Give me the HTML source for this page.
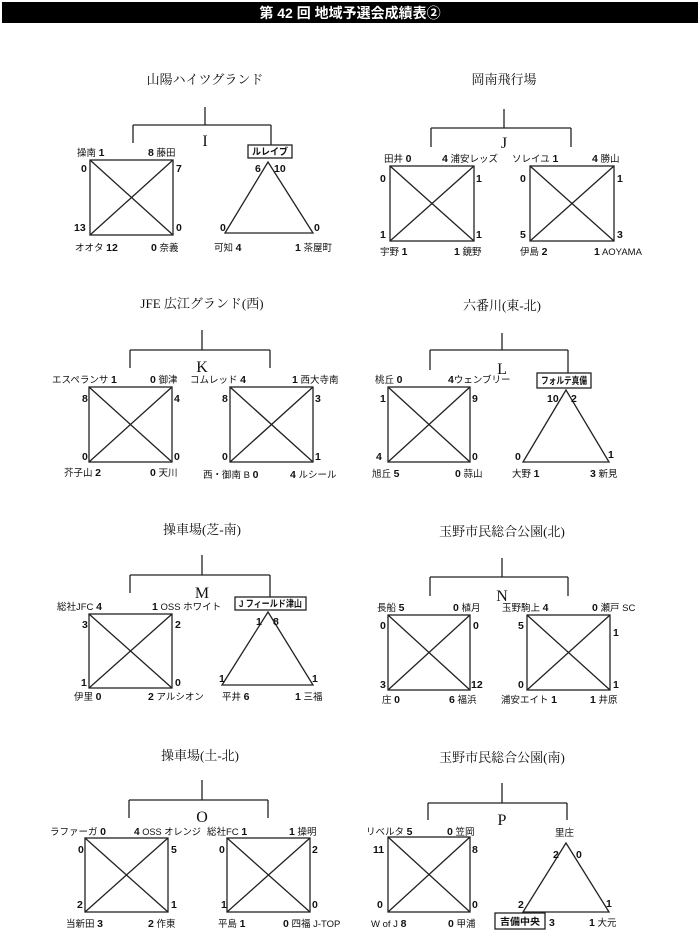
<!DOCTYPE html>
<html><head><meta charset="utf-8"><style>
body{margin:0;background:#fff;width:700px;height:937px;overflow:hidden}
svg{display:block}
text{font-family:"Liberation Sans","Noto Sans CJK JP",sans-serif;font-size:9.5px;fill:#111}
.n{font-weight:bold;font-size:10.5px}
.v{font-family:"Liberation Serif","Noto Serif CJK JP",serif;font-size:13px;text-anchor:middle}
.g{font-family:"Liberation Serif","Noto Serif CJK JP",serif;font-size:16px;text-anchor:middle}
.b{font-weight:bold;font-size:9.5px}
line,rect.s,polygon{stroke:#222;stroke-width:1.3;fill:none}
</style></head><body>
<svg width="700" height="937" viewBox="0 0 700 937" xmlns="http://www.w3.org/2000/svg">
<rect x="2" y="2" width="696" height="21" fill="#000"/>
<text x="350" y="18" text-anchor="middle" style="fill:#fff;font-weight:bold;font-size:14px">第 42 回  地域予選会成績表②</text>

<!-- I -->
<text class="v" x="205" y="84">山陽ハイツグランド</text>
<line x1="205" y1="107" x2="205" y2="125"/><line x1="133" y1="125" x2="271" y2="125"/>
<line x1="133" y1="125" x2="133" y2="143"/><line x1="271" y1="125" x2="271" y2="145"/>
<text class="g" x="205" y="146">I</text>
<rect class="s" x="90" y="160" width="83" height="75"/><line x1="90" y1="160" x2="173" y2="235"/><line x1="173" y1="160" x2="90" y2="235"/>
<text x="77" y="156">操南 <tspan class="n">1</tspan></text><text x="148" y="156"><tspan class="n">8</tspan> 藤田</text>
<text class="n" x="81" y="172">0</text><text class="n" x="176" y="172">7</text>
<text class="n" x="74" y="231">13</text><text class="n" x="176" y="231">0</text>
<text x="75" y="251">オオタ <tspan class="n">12</tspan></text><text x="151" y="251"><tspan class="n">0</tspan> 奈義</text>
<rect class="s" x="248" y="145" width="44" height="13"/><text class="b" x="252" y="155" textLength="36" lengthAdjust="spacingAndGlyphs">ルレイブ</text>
<polygon points="268,162 225,233 313,233"/>
<text class="n" x="255" y="172">6</text><text class="n" x="274" y="172">10</text>
<text class="n" x="220" y="231">0</text><text class="n" x="314" y="231">0</text>
<text x="214" y="251">可知 <tspan class="n">4</tspan></text><text x="295" y="251"><tspan class="n">1</tspan> 茶屋町</text>

<!-- J -->
<text class="v" x="504" y="84">岡南飛行場</text>
<line x1="504" y1="109" x2="504" y2="128"/><line x1="431" y1="128" x2="571" y2="128"/>
<line x1="431" y1="128" x2="431" y2="147"/><line x1="571" y1="128" x2="571" y2="147"/>
<text class="g" x="504" y="148">J</text>
<rect class="s" x="390" y="166" width="84" height="75"/><line x1="390" y1="166" x2="474" y2="241"/><line x1="474" y1="166" x2="390" y2="241"/>
<rect class="s" x="530" y="166" width="84" height="75"/><line x1="530" y1="166" x2="614" y2="241"/><line x1="614" y1="166" x2="530" y2="241"/>
<text x="384" y="162">田井 <tspan class="n">0</tspan></text><text x="442" y="162"><tspan class="n">4</tspan> 浦安レッズ</text>
<text x="512" y="162">ソレイユ <tspan class="n">1</tspan></text><text x="592" y="162"><tspan class="n">4</tspan> 勝山</text>
<text class="n" x="380" y="182">0</text><text class="n" x="476" y="182">1</text><text class="n" x="520" y="182">0</text><text class="n" x="617" y="182">1</text>
<text class="n" x="380" y="238">1</text><text class="n" x="476" y="238">1</text><text class="n" x="520" y="238">5</text><text class="n" x="617" y="238">3</text>
<text x="380" y="255">宇野 <tspan class="n">1</tspan></text><text x="454" y="255"><tspan class="n">1</tspan> 鏡野</text>
<text x="520" y="255">伊島 <tspan class="n">2</tspan></text><text x="594" y="255"><tspan class="n">1</tspan> AOYAMA</text>

<!-- K -->
<text class="v" x="202" y="308">JFE 広江グランド(西)</text>
<line x1="202" y1="330" x2="202" y2="350"/><line x1="130" y1="350" x2="270" y2="350"/>
<line x1="130" y1="350" x2="130" y2="368"/><line x1="270" y1="350" x2="270" y2="368"/>
<text class="g" x="202" y="372">K</text>
<rect class="s" x="89" y="387" width="83" height="75"/><line x1="89" y1="387" x2="172" y2="462"/><line x1="172" y1="387" x2="89" y2="462"/>
<rect class="s" x="230" y="387" width="83" height="75"/><line x1="230" y1="387" x2="313" y2="462"/><line x1="313" y1="387" x2="230" y2="462"/>
<text x="52" y="383">エスペランサ <tspan class="n">1</tspan></text><text x="150" y="383"><tspan class="n">0</tspan> 御津</text>
<text x="190" y="383">コムレッド <tspan class="n">4</tspan></text><text x="292" y="383"><tspan class="n">1</tspan> 西大寺南</text>
<text class="n" x="82" y="402">8</text><text class="n" x="174" y="402">4</text><text class="n" x="222" y="402">8</text><text class="n" x="315" y="402">3</text>
<text class="n" x="82" y="460">0</text><text class="n" x="174" y="460">0</text><text class="n" x="222" y="460">0</text><text class="n" x="315" y="460">1</text>
<text x="64" y="476">芥子山 <tspan class="n">2</tspan></text><text x="150" y="476"><tspan class="n">0</tspan> 天川</text>
<text x="203" y="478">西・御南 B <tspan class="n">0</tspan></text><text x="290" y="478"><tspan class="n">4</tspan> ルシール</text>

<!-- L -->
<text class="v" x="502" y="310">六番川(東-北)</text>
<line x1="502" y1="333" x2="502" y2="350"/><line x1="430" y1="350" x2="568" y2="350"/>
<line x1="430" y1="350" x2="430" y2="370"/><line x1="568" y1="350" x2="568" y2="373"/>
<text class="g" x="502" y="374">L</text>
<rect class="s" x="388" y="387" width="82" height="75"/><line x1="388" y1="387" x2="470" y2="462"/><line x1="470" y1="387" x2="388" y2="462"/>
<rect class="s" x="537" y="373" width="54" height="15"/><text class="b" x="541" y="384" textLength="46" lengthAdjust="spacingAndGlyphs">フォルテ真備</text>
<polygon points="566,390 523,462 609,462"/>
<text x="375" y="383">桃丘 <tspan class="n">0</tspan></text><text x="448" y="383"><tspan class="n">4</tspan>ウェンブリー</text>
<text class="n" x="380" y="402">1</text><text class="n" x="472" y="402">9</text>
<text class="n" x="376" y="460">4</text><text class="n" x="472" y="460">0</text>
<text class="n" x="547" y="402">10</text><text class="n" x="571" y="402">2</text>
<text class="n" x="515" y="460">0</text><text class="n" x="608" y="458">1</text>
<text x="372" y="477">旭丘 <tspan class="n">5</tspan></text><text x="455" y="477"><tspan class="n">0</tspan> 蒜山</text>
<text x="512" y="477">大野 <tspan class="n">1</tspan></text><text x="590" y="477"><tspan class="n">3</tspan> 新見</text>

<!-- M -->
<text class="v" x="202" y="534">操車場(芝-南)</text>
<line x1="202" y1="555" x2="202" y2="575"/><line x1="130" y1="575" x2="270" y2="575"/>
<line x1="130" y1="575" x2="130" y2="593"/><line x1="270" y1="575" x2="270" y2="597"/>
<text class="g" x="202" y="598">M</text>
<rect class="s" x="89" y="614" width="83" height="74"/><line x1="89" y1="614" x2="172" y2="688"/><line x1="172" y1="614" x2="89" y2="688"/>
<rect class="s" x="235" y="597" width="71" height="13"/><text class="b" x="239" y="607" textLength="63" lengthAdjust="spacingAndGlyphs">J フィールド津山</text>
<polygon points="268,612 222,685 313,685"/>
<text x="57" y="610">総社JFC <tspan class="n">4</tspan></text><text x="152" y="610"><tspan class="n">1</tspan> OSS ホワイト</text>
<text class="n" x="82" y="628">3</text><text class="n" x="175" y="628">2</text>
<text class="n" x="81" y="686">1</text><text class="n" x="175" y="686">0</text>
<text class="n" x="256" y="625">1</text><text class="n" x="273" y="625">8</text>
<text class="n" x="219" y="682">1</text><text class="n" x="312" y="682">1</text>
<text x="74" y="700">伊里 <tspan class="n">0</tspan></text><text x="148" y="700"><tspan class="n">2</tspan> アルシオン</text>
<text x="222" y="700">平井 <tspan class="n">6</tspan></text><text x="295" y="700"><tspan class="n">1</tspan> 三福</text>

<!-- N -->
<text class="v" x="502" y="536">玉野市民総合公園(北)</text>
<line x1="502" y1="558" x2="502" y2="577"/><line x1="430" y1="577" x2="568" y2="577"/>
<line x1="430" y1="577" x2="430" y2="596"/><line x1="568" y1="577" x2="568" y2="596"/>
<text class="g" x="502" y="601">N</text>
<rect class="s" x="388" y="615" width="82" height="75"/><line x1="388" y1="615" x2="470" y2="690"/><line x1="470" y1="615" x2="388" y2="690"/>
<rect class="s" x="527" y="615" width="83" height="75"/><line x1="527" y1="615" x2="610" y2="690"/><line x1="610" y1="615" x2="527" y2="690"/>
<text x="377" y="611">長船 <tspan class="n">5</tspan></text><text x="453" y="611"><tspan class="n">0</tspan> 植月</text>
<text x="502" y="611">玉野駒上 <tspan class="n">4</tspan></text><text x="592" y="611"><tspan class="n">0</tspan> 瀬戸 SC</text>
<text class="n" x="380" y="629">0</text><text class="n" x="473" y="629">0</text><text class="n" x="518" y="629">5</text><text class="n" x="613" y="636">1</text>
<text class="n" x="380" y="688">3</text><text class="n" x="471" y="688">12</text><text class="n" x="518" y="688">0</text><text class="n" x="613" y="688">1</text>
<text x="382" y="703">庄 <tspan class="n">0</tspan></text><text x="449" y="703"><tspan class="n">6</tspan> 福浜</text>
<text x="501" y="703">浦安エイト <tspan class="n">1</tspan></text><text x="590" y="703"><tspan class="n">1</tspan> 井原</text>

<!-- O -->
<text class="v" x="200" y="760">操車場(土-北)</text>
<line x1="202" y1="780" x2="202" y2="800"/><line x1="129" y1="800" x2="268" y2="800"/>
<line x1="129" y1="800" x2="129" y2="818"/><line x1="268" y1="800" x2="268" y2="818"/>
<text class="g" x="202" y="822">O</text>
<rect class="s" x="85" y="838" width="83" height="74"/><line x1="85" y1="838" x2="168" y2="912"/><line x1="168" y1="838" x2="85" y2="912"/>
<rect class="s" x="227" y="838" width="83" height="74"/><line x1="227" y1="838" x2="310" y2="912"/><line x1="310" y1="838" x2="227" y2="912"/>
<text x="50" y="835">ラファーガ <tspan class="n">0</tspan></text><text x="134" y="835" textLength="67" lengthAdjust="spacingAndGlyphs"><tspan class="n">4</tspan> OSS オレンジ</text>
<text x="207" y="835">総社FC <tspan class="n">1</tspan></text><text x="289" y="835"><tspan class="n">1</tspan> 操明</text>
<text class="n" x="78" y="853">0</text><text class="n" x="171" y="853">5</text><text class="n" x="219" y="853">0</text><text class="n" x="312" y="853">2</text>
<text class="n" x="77" y="908">2</text><text class="n" x="171" y="908">1</text><text class="n" x="221" y="908">1</text><text class="n" x="312" y="908">0</text>
<text x="66" y="927">当新田 <tspan class="n">3</tspan></text><text x="148" y="927"><tspan class="n">2</tspan> 作東</text>
<text x="218" y="927">平島 <tspan class="n">1</tspan></text><text x="283" y="927"><tspan class="n">0</tspan> 四福 J-TOP</text>

<!-- P -->
<text class="v" x="502" y="762">玉野市民総合公園(南)</text>
<line x1="502" y1="783" x2="502" y2="803"/><line x1="428" y1="803" x2="567" y2="803"/>
<line x1="428" y1="803" x2="428" y2="820"/><line x1="567" y1="803" x2="567" y2="820"/>
<text class="g" x="502" y="825">P</text>
<rect class="s" x="388" y="837" width="82" height="75"/><line x1="388" y1="837" x2="470" y2="912"/><line x1="470" y1="837" x2="388" y2="912"/>
<text x="555" y="836">里庄</text>
<polygon points="566,843 523,912 609,912"/>
<text class="n" x="553" y="858">2</text><text class="n" x="576" y="858">0</text>
<text class="n" x="518" y="908">2</text><text class="n" x="606" y="907">1</text>
<rect class="s" x="495" y="913" width="50" height="16"/><text class="b" x="500" y="925" textLength="40" lengthAdjust="spacingAndGlyphs">吉備中央</text>
<text class="n" x="549" y="926">3</text><text x="589" y="926"><tspan class="n">1</tspan> 大元</text>
<text x="366" y="835">リベルタ <tspan class="n">5</tspan></text><text x="447" y="835"><tspan class="n">0</tspan> 笠岡</text>
<text class="n" x="373" y="853">11</text><text class="n" x="472" y="853">8</text>
<text class="n" x="377" y="908">0</text><text class="n" x="472" y="908">0</text>
<text x="371" y="927">W of J <tspan class="n">8</tspan></text><text x="448" y="927"><tspan class="n">0</tspan> 甲浦</text>
</svg>
</body></html>
